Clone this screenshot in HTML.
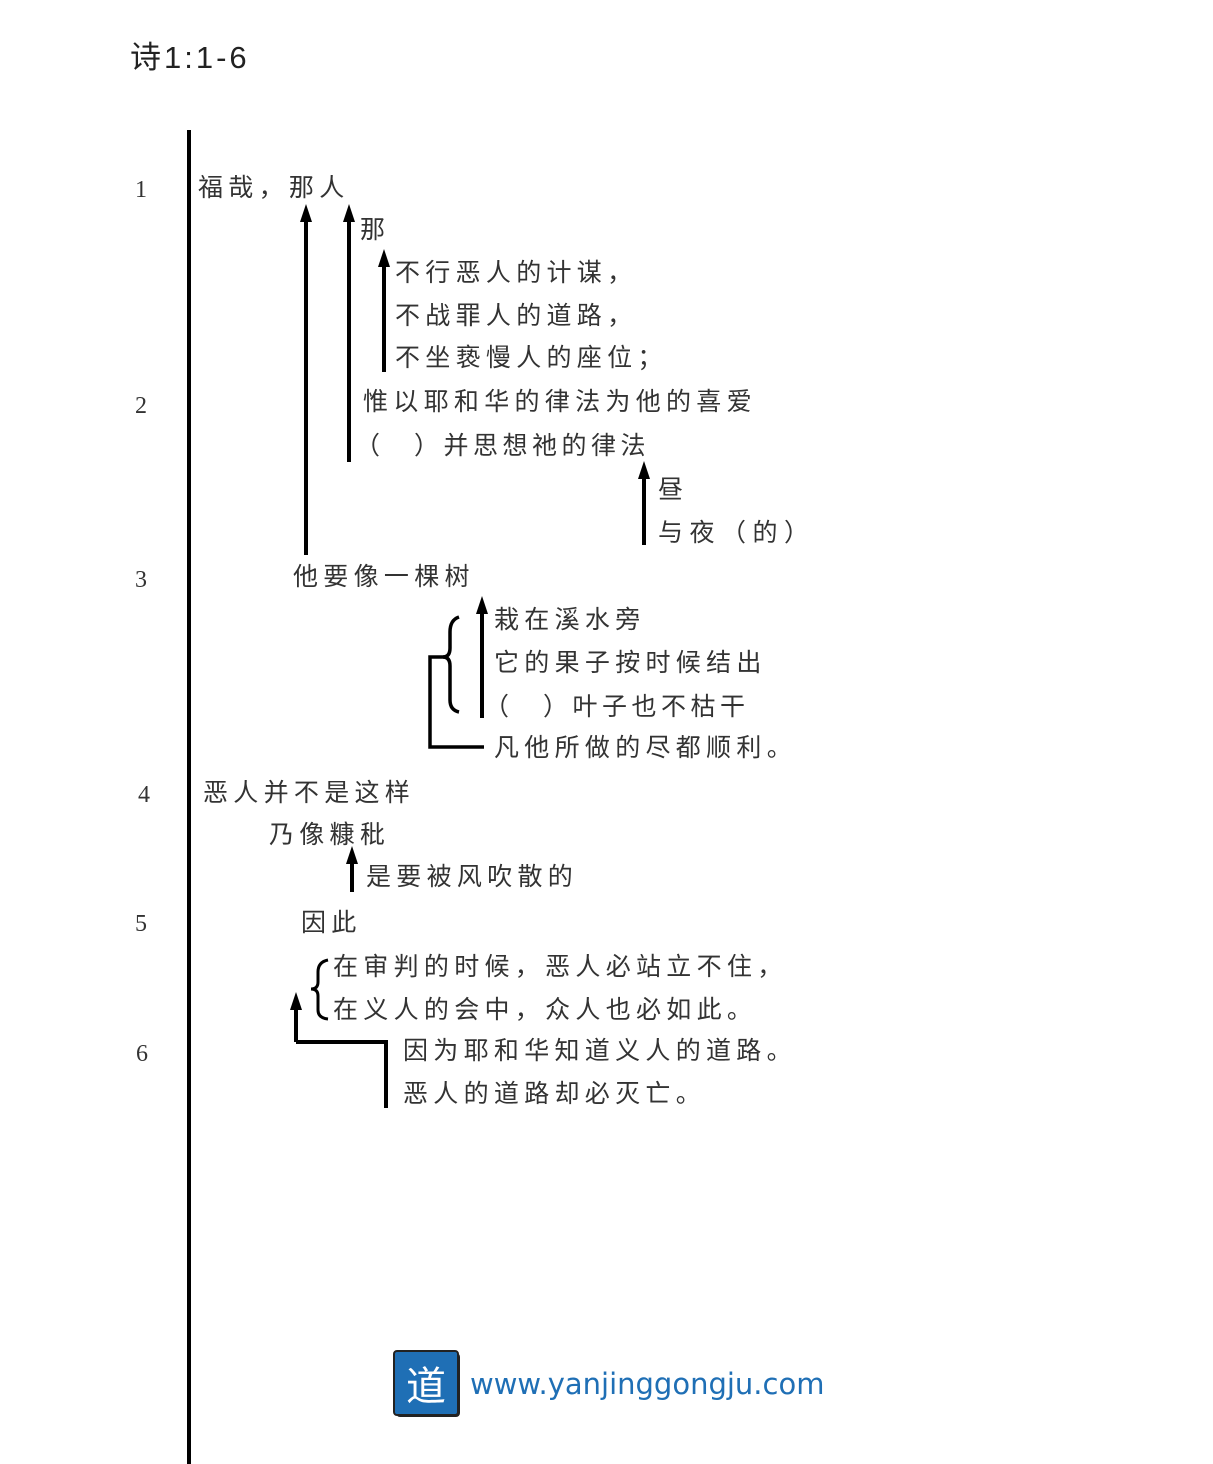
<!DOCTYPE html>
<html><head><meta charset="utf-8"><style>
body{margin:0;background:#fff;}
#c{position:relative;width:1213px;height:1464px;overflow:hidden;background:#fff;}
.t{position:absolute;font-family:"Liberation Sans","Noto Sans CJK SC",sans-serif;font-size:25px;line-height:30px;letter-spacing:5.3px;color:#333;white-space:nowrap;}
.n{position:absolute;font-family:"Liberation Serif","Noto Serif CJK SC",serif;font-size:24px;line-height:30px;color:#333;}
</style></head><body><div id="c">
<div class="t" style="left:130px;top:40px;font-size:31px;line-height:36px;letter-spacing:3px;color:#222">诗1:1-6</div>
<svg width="1213" height="1464" style="position:absolute;left:0;top:0">
<g stroke="#000" fill="none">
<line x1="189" y1="130" x2="189" y2="1464" stroke-width="4"/>
<g stroke-width="4">
<line x1="306" y1="555" x2="306" y2="220"/>
<line x1="349" y1="462" x2="349" y2="220"/>
<line x1="384" y1="372" x2="384" y2="265"/>
<line x1="644" y1="545" x2="644" y2="477"/>
<line x1="482" y1="718" x2="482" y2="612"/>
<line x1="352" y1="892" x2="352" y2="862"/>
<line x1="296" y1="1042" x2="296" y2="1008"/>
</g>
<g fill="#000" stroke="none">
<path d="M300,222 L306,204 L312,222Z"/>
<path d="M343,222 L349,204 L355,222Z"/>
<path d="M378,267 L384,249 L390,267Z"/>
<path d="M638,479 L644,461 L650,479Z"/>
<path d="M476,614 L482,596 L488,614Z"/>
<path d="M346,864 L352,846 L358,864Z"/>
<path d="M290,1010 L296,992 L302,1010Z"/>
</g>
<path d="M459,617 Q450,620 450,632 L450,648 Q450,657 443,657 Q450,657 450,666 L450,700 Q450,710 459,712" stroke-width="3.5"/>
<path d="M445,657 L430,657 L430,747 L484,747" stroke-width="3.5"/>
<path d="M328,960 Q318,962 318,972 L318,982 Q318,989 311,989 Q318,989 318,996 L318,1010 Q318,1018 328,1019" stroke-width="3"/>
<path d="M296,1042 L386,1042 L386,1108" stroke-width="4"/>
</g>
</svg>
<div class="n" style="left:135px;top:175px">1</div>
<div class="n" style="left:135px;top:391px">2</div>
<div class="n" style="left:135px;top:565px">3</div>
<div class="n" style="left:138px;top:780px">4</div>
<div class="n" style="left:135px;top:909px">5</div>
<div class="n" style="left:136px;top:1039px">6</div>
<div class="t" style="left:198px;top:173px">福哉，那人</div>
<div class="t" style="left:360px;top:215px">那</div>
<div class="t" style="left:395px;top:258px">不行恶人的计谋，</div>
<div class="t" style="left:395px;top:301px">不战罪人的道路，</div>
<div class="t" style="left:395px;top:343px">不坐亵慢人的座位；</div>
<div class="t" style="left:363px;top:387px">惟以耶和华的律法为他的喜爱</div>
<div class="t" style="left:355px;top:431px;letter-spacing:4.5px">（　）并思想祂的律法</div>
<div class="t" style="left:658px;top:475px">昼</div>
<div class="t" style="left:658px;top:518px;letter-spacing:6.5px">与夜（的）</div>
<div class="t" style="left:293px;top:562px">他要像一棵树</div>
<div class="t" style="left:494px;top:605px">栽在溪水旁</div>
<div class="t" style="left:494px;top:648px">它的果子按时候结出</div>
<div class="t" style="left:484px;top:692px;letter-spacing:4.5px">（　）叶子也不枯干</div>
<div class="t" style="left:494px;top:733px">凡他所做的尽都顺利。</div>
<div class="t" style="left:203px;top:778px">恶人并不是这样</div>
<div class="t" style="left:269px;top:820px">乃像糠秕</div>
<div class="t" style="left:366px;top:862px">是要被风吹散的</div>
<div class="t" style="left:301px;top:908px">因此</div>
<div class="t" style="left:333px;top:952px">在审判的时候，恶人必站立不住，</div>
<div class="t" style="left:333px;top:995px">在义人的会中，众人也必如此。</div>
<div class="t" style="left:403px;top:1036px">因为耶和华知道义人的道路。</div>
<div class="t" style="left:403px;top:1079px">恶人的道路却必灭亡。</div>
<div style="position:absolute;left:396px;top:1353px;width:64px;height:64px;background:#222;border-radius:4px"></div>
<div style="position:absolute;left:393px;top:1350px;width:62px;height:62px;background:#1f6fb5;border:2px solid #222;border-radius:4px;color:#fff;font-family:'Noto Sans CJK SC',sans-serif;font-size:40px;line-height:62px;text-align:center">道</div>
<div style="position:absolute;left:470px;top:1364px;font-family:'DejaVu Sans','Liberation Sans',sans-serif;font-size:29px;line-height:40px;color:#1f6fb5;letter-spacing:0px">www.yanjinggongju.com</div>
</div></body></html>
